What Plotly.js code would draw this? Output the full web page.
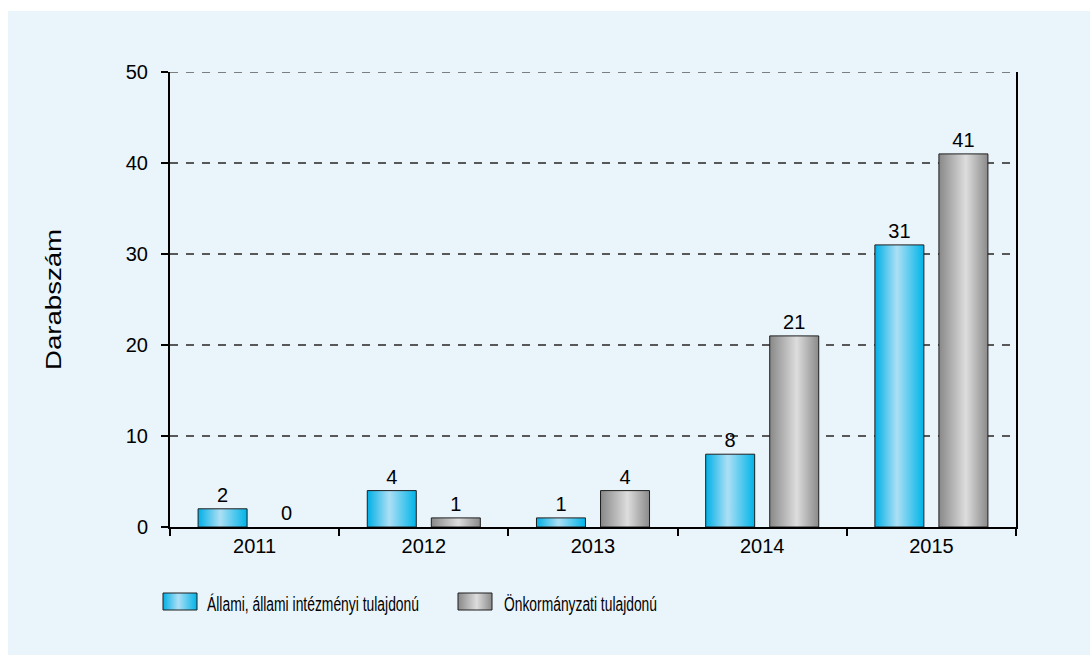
<!DOCTYPE html>
<html>
<head>
<meta charset="utf-8">
<script src="https://cdn.plot.ly/plotly-3.0.1.min.js"></script>
<style>
  html, body { margin: 0; padding: 0; background: #ffffff; width: 1090px; height: 655px; overflow: hidden; }
  #chart { position: absolute; left: 8px; top: 11px; width: 1082px; height: 644px; }
</style>
</head>
<body>
<div id="chart"></div>
<script>
// ---- data ----
const years = ['2011', '2012', '2013', '2014', '2015'];
const allami = [2, 4, 1, 8, 31];
const onkormanyzati = [0, 1, 4, 21, 41];
const seriesNames = ['Állami, állami intézményi tulajdonú', 'Önkormányzati tulajdonú'];
const yTitle = 'Darabszám';
const yTicks = [0, 10, 20, 30, 40, 50];
const yMax = 50;

const FONT = 'Liberation Sans, Arial, Helvetica, sans-serif';
const GRID = '#585858';

function outlineWidths(vals) { return vals.map(function (v) { return v === 0 ? 0 : 1; }); }

const traces = [
  {
    type: 'bar', name: seriesNames[0], x: years, y: allami,
    text: allami.map(String), textposition: 'outside', cliponaxis: false,
    textfont: { family: FONT, size: 20, color: '#000' },
    marker: { color: '#4fc3ec', line: { color: '#1e1e1e', width: outlineWidths(allami) } }
  },
  {
    type: 'bar', name: seriesNames[1], x: years, y: onkormanyzati,
    text: onkormanyzati.map(String), textposition: 'outside', cliponaxis: false,
    textfont: { family: FONT, size: 20, color: '#000' },
    marker: { color: '#b4b4b4', line: { color: '#1e1e1e', width: outlineWidths(onkormanyzati) } }
  }
];

const layout = {
  width: 1082, height: 644,
  margin: { l: 162, r: 74, t: 61, b: 128 },
  paper_bgcolor: '#eaf4fb',
  plot_bgcolor: 'rgba(0,0,0,0)',
  font: { family: FONT, size: 20, color: '#000' },
  barmode: 'group',
  bargap: 0.243,
  bargroupgap: 0.235,
  showlegend: true,
  legend: {
    orientation: 'h', x: -0.03, xanchor: 'left', y: -0.167, yanchor: 'middle',
    bgcolor: 'rgba(0,0,0,0)', entrywidth: 252, entrywidthmode: 'pixels',
    font: { family: FONT, size: 20, color: '#000' }, traceorder: 'normal'
  },
  shapes: [
    { type: 'line', xref: 'paper', yref: 'y', x0: 0, x1: 1, y0: yMax, y1: yMax, layer: 'below',
      line: { color: GRID, width: 1.5, dash: '8px,8px' } }
  ],
  xaxis: {
    type: 'category', showgrid: false, zeroline: false,
    showline: true, linecolor: '#000', linewidth: 2,
    ticks: 'outside', tickson: 'boundaries', ticklen: 7, tickwidth: 2, tickcolor: '#000',
    tickfont: { family: FONT, size: 20, color: '#000' }
  },
  yaxis: {
    range: [0, yMax], tickvals: yTicks, ticktext: yTicks.map(String),
    showgrid: true, gridcolor: GRID, gridwidth: 1.3, griddash: '8px,8px',
    zeroline: false, showline: true, linecolor: '#000', linewidth: 2, mirror: true,
    ticks: 'outside', ticklen: 7, tickwidth: 2, tickcolor: '#000',
    ticklabelstandoff: 9,
    tickfont: { family: FONT, size: 20, color: '#000' },
    title: { text: yTitle, standoff: 58, font: { family: FONT, size: 22, color: '#000' } }
  }
};

Plotly.newPlot('chart', traces, layout, { displayModeBar: false, staticPlot: true }).then(function (gd) {
  const svgNS = 'http://www.w3.org/2000/svg';
  const svg = gd.querySelector('svg.main-svg');
  let defs = svg.querySelector('defs');
  if (!defs) { defs = document.createElementNS(svgNS, 'defs'); svg.insertBefore(defs, svg.firstChild); }
  function grad(id, stops) {
    const g = document.createElementNS(svgNS, 'linearGradient');
    g.setAttribute('id', id);
    g.setAttribute('x1', '0'); g.setAttribute('y1', '0');
    g.setAttribute('x2', '1'); g.setAttribute('y2', '0');
    stops.forEach(function (s) {
      const st = document.createElementNS(svgNS, 'stop');
      st.setAttribute('offset', s[0]);
      st.setAttribute('stop-color', s[1]);
      g.appendChild(st);
    });
    defs.appendChild(g);
  }
  grad('gradBlue', [['0', '#00b0e6'], ['0.45', '#addff5'], ['1', '#00b4e8']]);
  grad('gradGrey', [['0', '#888888'], ['0.55', '#dddddd'], ['1', '#8a8a8a']]);
  const fills = ['url(#gradBlue)', 'url(#gradGrey)'];

  gd.querySelectorAll('.barlayer .trace').forEach(function (t, i) {
    t.querySelectorAll('.point path').forEach(function (p) { p.style.fill = fills[i]; });
  });

  // legend styling: swatch box and condensed text, aligned to the reference layout
  const swatchLeft = [163, 458];
  const textLeft = [207, 504];
  const legendTextLen = [212, 153];
  gd.querySelectorAll('.legend .traces').forEach(function (t, i) {
    const tx = t.querySelector('text.legendtext');
    if (tx) {
      tx.setAttribute('textLength', legendTextLen[i]);
      tx.setAttribute('lengthAdjust', 'spacingAndGlyphs');
      const r = tx.getBoundingClientRect();
      tx.setAttribute('transform', 'translate(' + (textLeft[i] - r.left) + ',0)');
    }
    t.querySelectorAll('.legendpoints path').forEach(function (p) {
      p.setAttribute('d', 'M0,-8.5H34V8.5H0Z');
      p.style.fill = fills[i];
      p.style.stroke = '#1e1e1e';
      p.style.strokeWidth = '1px';
      p.removeAttribute('transform');
      const r = p.getBoundingClientRect();
      const dx = swatchLeft[i] - r.left;
      const dy = 593 - r.top;
      p.setAttribute('transform', 'translate(' + dx + ',' + dy + ')');
    });
  });
  const scrollbox = gd.querySelector('.legend .scrollbox');
  if (scrollbox) scrollbox.removeAttribute('clip-path');

  const yt = gd.querySelector('.g-ytitle text');
  if (yt) { yt.setAttribute('textLength', 141); yt.setAttribute('lengthAdjust', 'spacingAndGlyphs'); }
});
</script>
</body>
</html>
